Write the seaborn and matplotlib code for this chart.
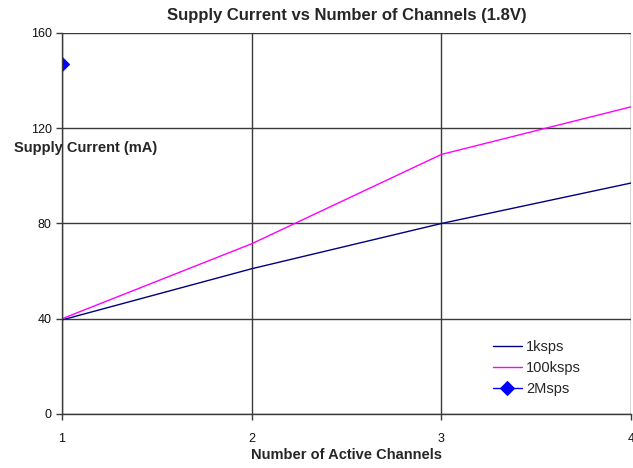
import numpy as np
import pandas as pd
import matplotlib
matplotlib.use("Agg")
import matplotlib.pyplot as plt
import seaborn as sns

# Data
channels = [1, 2, 3, 4]
current_1ksps = [39.5, 61, 80, 97]
current_100ksps = [40, 71.5, 109, 129]
channels_2msps = [1]
current_2msps = [147]

sns.set_style("white")
plt.rcParams['font.family'] = ['Liberation Sans', 'DejaVu Sans']

fig = plt.figure(figsize=(6.33, 4.68), dpi=100)
ax = fig.add_axes([0.098, 0.1154, 0.899, 0.8141])

df_low = pd.DataFrame({"ch": channels, "mA": current_1ksps})
df_mid = pd.DataFrame({"ch": channels, "mA": current_100ksps})
df_hi = pd.DataFrame({"ch": channels_2msps, "mA": current_2msps})

sns.lineplot(data=df_low, x="ch", y="mA", ax=ax, color="#000080", lw=1, label="1ksps")
sns.lineplot(data=df_mid, x="ch", y="mA", ax=ax, color="#FF00FF", lw=1, label="100ksps")
sns.lineplot(data=df_hi, x="ch", y="mA", ax=ax, color="#0000FF", lw=1, marker="D",
             markersize=7, markeredgecolor="#0000FF", label="2Msps")

ax.set_xlim(1, 4)
ax.set_ylim(0, 160)
ax.set_xticks(channels)
ax.set_yticks([0, 40, 80, 120, 160])
ax.grid(True, color="#3a3a3a", lw=1)
ax.set_axisbelow(True)
for side in ["top", "right"]:
    ax.spines[side].set_visible(False)
for side in ["left", "bottom"]:
    ax.spines[side].set_color("#3a3a3a")
    ax.spines[side].set_linewidth(1)
ax.tick_params(axis="both", which="both", direction="out", length=4, width=1,
               color="#3a3a3a", labelsize=9, labelcolor="#111111", bottom=True, left=True)
ax.tick_params(axis="x", pad=10)

ax.set_title("Supply Current vs Number of Channels (1.8V)", fontsize=12,
             fontweight="bold", pad=9)
ax.set_xlabel("Number of Active Channels", fontsize=10.5, fontweight="bold", labelpad=2)
ax.set_ylabel("")
fig.text(0.135, 0.684, "Supply Current (mA)", fontsize=10.5, fontweight="bold",
         ha="center", va="center")

ax.legend(loc="lower right", bbox_to_anchor=(0.935, 0.012), frameon=False, fontsize=10.5,
          handlelength=2.0, labelspacing=0.5, handletextpad=0.3)

fig.savefig("out.png", dpi=100)
